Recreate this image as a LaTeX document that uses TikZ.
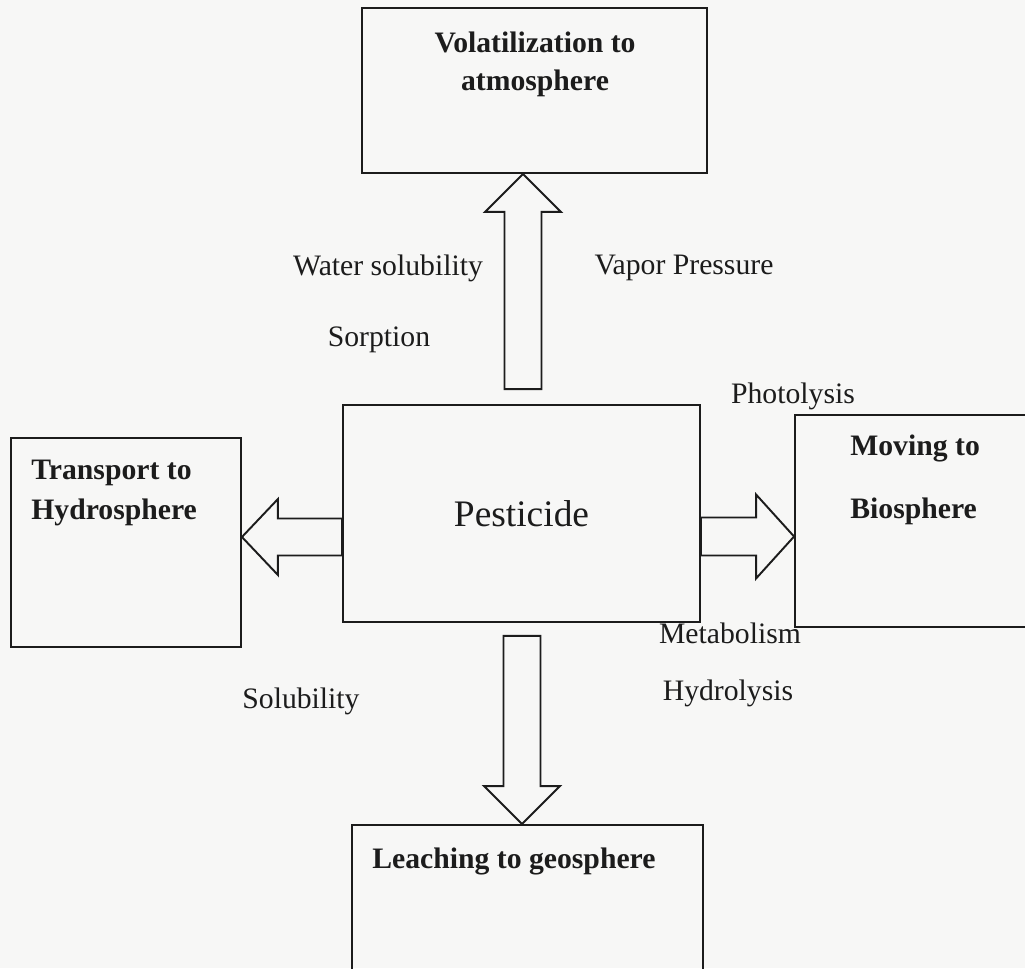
\documentclass[tikz,border=0pt]{standalone}
\usepackage{fontspec}
\setmainfont{Liberation Serif}
\usetikzlibrary{calc}
\definecolor{ink}{HTML}{1C1C1C}
\definecolor{paper}{HTML}{F7F7F6}

\begin{document}
\begin{tikzpicture}[x=0.02cm,y=-0.02cm,
  bx/.style={draw=ink,line width=1.1pt,inner sep=0pt},
  tx/.style={inner sep=0pt,text=ink,font=\fontsize{16.9}{21.6}\selectfont},
  hd/.style={tx,font=\fontsize{16.9}{21.6}\selectfont\bfseries},
  blk/.style={draw=ink,line width=1.1pt,line join=miter}]
\useasboundingbox (0,0) rectangle (1025,968);
\fill[paper] (0,0) rectangle (1025,968);
\node[bx,minimum width=6.9cm,minimum height=3.3cm] (top) at (534.5,90.5) {};
\node[bx,minimum width=7.14cm,minimum height=4.34cm,text=ink,font=\fontsize{21.3}{25}\selectfont] (pest) at (521.5,513.5) {Pesticide};
\node[bx,minimum width=4.6cm,minimum height=4.18cm] (hyd) at (126,542.5) {};
\node[bx,minimum width=4.9cm,minimum height=4.24cm] (bio) at (917.5,521) {};
\node[bx,minimum width=7.02cm,minimum height=3.3cm] (geo) at (527.5,907.5) {};
\node[hd,align=center] (topT) at (535,64) {Volatilization to\\atmosphere};
\node[hd,align=left,anchor=west] (hydT) at (31,493) {Transport to\\[1.2pt]Hydrosphere};
\node[hd,align=left,anchor=west] (bioT) at (850,480) {Moving to\\[14.1pt]Biosphere};
\node[hd,anchor=west] (geoT) at (372,861) {Leaching to geosphere};
\coordinate (uT) at ($(pest.north)+(1.5,-15)$);
\coordinate (uH) at (uT |- top.south);
\draw[blk] ($(uT)+(-18.5,0)$) -- ($(uH)+(-18.5,38)$) -- ($(uH)+(-38,38)$) -- (uH)
  -- ($(uH)+(38,38)$) -- ($(uH)+(18.5,38)$) -- ($(uT)+(18.5,0)$) -- cycle;
\coordinate (dT) at ($(pest.south)+(0.5,13)$);
\coordinate (dH) at (dT |- geo.north);
\draw[blk] ($(dT)+(-18.5,0)$) -- ($(dH)+(-18.5,-38)$) -- ($(dH)+(-38,-38)$) -- (dH)
  -- ($(dH)+(38,-38)$) -- ($(dH)+(18.5,-38)$) -- ($(dT)+(18.5,0)$) -- cycle;
\coordinate (lT) at ($(pest.west)+(0,23.5)$);
\coordinate (lH) at (lT -| hyd.east);
\draw[blk] ($(lT)+(0,-18.5)$) -- ($(lH)+(36,-18.5)$) -- ($(lH)+(36,-38)$) -- (lH)
  -- ($(lH)+(36,38)$) -- ($(lH)+(36,18.5)$) -- ($(lT)+(0,18.5)$) -- cycle;
\coordinate (rT) at ($(pest.east)+(0,23)$);
\coordinate (rH) at (rT -| bio.west);
\draw[blk] ($(rT)+(0,-19)$) -- ($(rH)+(-38,-19)$) -- ($(rH)+(-38,-42)$) -- (rH)
  -- ($(rH)+(-38,42)$) -- ($(rH)+(-38,19)$) -- ($(rT)+(0,19)$) -- cycle;
\node[tx] (ws) at (388,268) {Water solubility};
\node[tx] (vp) at (684,268) {Vapor Pressure};
\node[tx] (so) at (379,340) {Sorption};
\node[tx] (ph) at (793,396) {Photolysis};
\node[tx] (me) at (730,633) {Metabolism};
\node[tx] (hy) at (728,693) {Hydrolysis};
\node[tx] (sl) at (301,701) {Solubility};
\end{tikzpicture}
\end{document}
